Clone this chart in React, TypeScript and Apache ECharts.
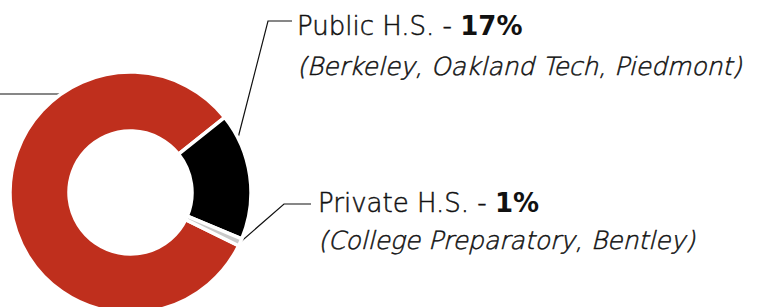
import React, { useEffect, useRef } from "react";
import * as echarts from "echarts";

const categories = ["Other", "Public H.S.", "Private H.S."];
const schools = ["", "(Berkeley, Oakland Tech, Piedmont)", "(College Preparatory, Bentley)"];
const percents = [82, 17, 1];
const colors = ["#BF2F1D", "#000000", "#C9C9C9"];

const FONT = "'DejaVu Sans', sans-serif";
const LIGHT = "'DejaVu Sans Light', 'DejaVu Sans ExtraLight', 'DejaVu Sans', sans-serif";

export default function App() {
  const ref = useRef<HTMLDivElement>(null);
  useEffect(() => {
    document.body.style.margin = "0";
    const chart = echarts.init(ref.current!, null, { renderer: "svg" });
    const upright = { fontFamily: FONT, fontSize: 26, fontWeight: 200, color: "#111", lineHeight: 36, textBorderColor: "#111", textBorderWidth: 0.5 };
    const italic = { fontFamily: LIGHT, fontSize: 25, fontStyle: "italic", fontWeight: 200, color: "#111", textBorderColor: "#111", textBorderWidth: 0.5 };
    chart.setOption({
      animation: false,
      backgroundColor: "#ffffff",
      series: [
        {
          type: "pie",
          center: [130.5, 192.5],
          radius: [61.5, 120.5],
          startAngle: 333.8,
          clockwise: true,
          avoidLabelOverlap: false,
          itemStyle: { borderColor: "#ffffff", borderWidth: 3.5 },
          data: categories.map((c, i) => ({
            name: c,
            value: percents[i],
            itemStyle: { color: colors[i] },
          })),
          label: {
            show: true,
            position: "outside",
            fontFamily: FONT,
            color: "#111",
            formatter: (p: any) =>
              p.dataIndex === 0
                ? " "
                : `{a|${p.name} - }{b|${percents[p.dataIndex]}%}\n{${p.dataIndex === 1 ? "c" : "d"}|${schools[p.dataIndex]}}`,
            rich: {
              a: upright,
              b: { fontFamily: FONT, fontSize: 26, fontWeight: "bold", color: "#111", lineHeight: 36 },
              c: { ...italic, lineHeight: 44 },
              d: { ...italic, lineHeight: 38 },
            },
          },
          labelLine: { show: true, lineStyle: { color: "#111", width: 1.2 } },
          labelLayout: (params: any) => {
            if (params.dataIndex === 0) {
              return { x: -40, y: 94, align: "right", verticalAlign: "middle", labelLinePoints: [[63, 94], [20, 94], [-40, 94]] };
            }
            if (params.dataIndex === 1) {
              return { x: 297, y: 8, align: "left", verticalAlign: "top", labelLinePoints: [[238, 138], [268, 21], [292, 21]] };
            }
            return { x: 318, y: 185, align: "left", verticalAlign: "top", labelLinePoints: [[237, 245], [284, 204], [311, 204]] };
          },
        },
      ],
    });
    return () => chart.dispose();
  }, []);
  return <div ref={ref} style={{ width: 765, height: 307 }} />;
}
